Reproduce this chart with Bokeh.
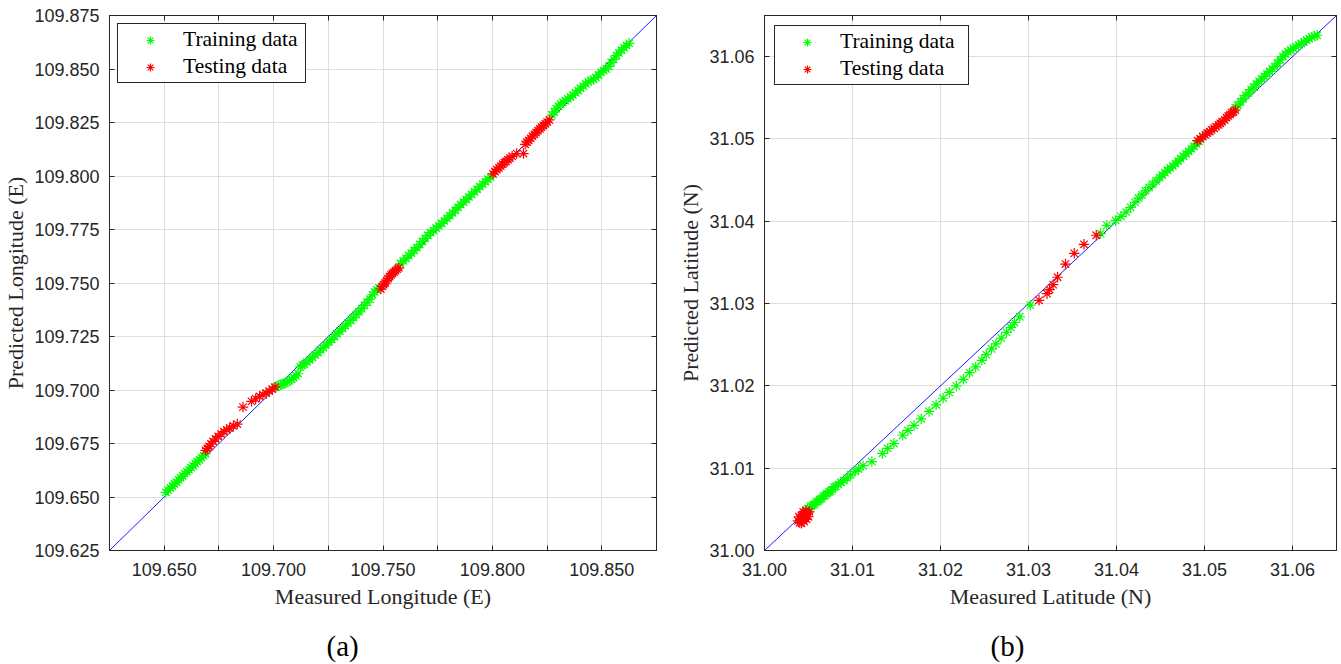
from bokeh.plotting import figure
from bokeh.layouts import row
from bokeh.models import (FixedTicker, PrintfTickFormatter, LinearAxis, Range1d,
                          CustomJSTickFormatter)
from bokeh.embed import file_html
from bokeh.resources import INLINE

# ---------------- data: (a) longitude ----------------
lon_range = [109.625, 109.875]
lon_ticks_y = [109.625, 109.65, 109.675, 109.7, 109.725, 109.75, 109.775, 109.8, 109.825, 109.85, 109.875]
lon_ticks_x = [109.65, 109.7, 109.75, 109.8, 109.85]
lon_minor_x = [109.625, 109.675, 109.725, 109.775, 109.825, 109.875]

lon_train_meas = [
    109.6507, 109.6518, 109.6528, 109.6538, 109.6547, 109.6556, 109.6566, 109.6575, 109.6585, 109.6594,
    109.6604, 109.6613, 109.6623, 109.6632, 109.6642, 109.6651, 109.6661, 109.6670, 109.6680, 109.6689,
    109.7012, 109.7022, 109.7032, 109.7042, 109.7052, 109.7062, 109.7072, 109.7082, 109.7092, 109.7102,
    109.7112, 109.7122, 109.7131,
    109.7140, 109.7152, 109.7165, 109.7178, 109.7190, 109.7203, 109.7215, 109.7228, 109.7240, 109.7253,
    109.7265, 109.7278, 109.7290, 109.7303, 109.7315, 109.7328, 109.7340, 109.7353, 109.7365, 109.7378,
    109.7390, 109.7403, 109.7415, 109.7428, 109.7440, 109.7452, 109.7462, 109.7472, 109.7482,
    109.7580, 109.7593, 109.7605, 109.7618, 109.7630, 109.7643, 109.7655, 109.7668, 109.7680, 109.7693,
    109.7705, 109.7718, 109.7730, 109.7743, 109.7755, 109.7768, 109.7780, 109.7793, 109.7805, 109.7818,
    109.7830, 109.7843, 109.7855, 109.7868, 109.7880, 109.7893, 109.7905, 109.7918, 109.7930, 109.7943,
    109.7955, 109.7968, 109.7980, 109.7992,
    109.8272, 109.8283, 109.8292, 109.8302, 109.8312, 109.8322, 109.8333, 109.8345, 109.8357, 109.8368,
    109.8380, 109.8392, 109.8403, 109.8415, 109.8427, 109.8438, 109.8450, 109.8462, 109.8473, 109.8485,
    109.8497, 109.8508, 109.8520, 109.8532, 109.8543, 109.8555, 109.8567, 109.8578, 109.8590, 109.8602,
    109.8613, 109.8625,
]
lon_train_pred = [
    109.6522, 109.6532, 109.6543, 109.6551, 109.6561, 109.6570, 109.6580, 109.6590, 109.6598, 109.6609,
    109.6618, 109.6627, 109.6637, 109.6646, 109.6656, 109.6665, 109.6674, 109.6684, 109.6693, 109.6702,
    109.7015, 109.7020, 109.7024, 109.7028, 109.7032, 109.7037, 109.7043, 109.7050, 109.7058, 109.7066,
    109.7076, 109.7108, 109.7116,
    109.7120, 109.7130, 109.7141, 109.7152, 109.7163, 109.7175, 109.7187, 109.7198, 109.7210, 109.7224,
    109.7237, 109.7250, 109.7262, 109.7275, 109.7288, 109.7300, 109.7312, 109.7325, 109.7338, 109.7352,
    109.7365, 109.7380, 109.7395, 109.7410, 109.7425, 109.7445, 109.7458, 109.7468, 109.7476,
    109.7590, 109.7603, 109.7615, 109.7628, 109.7640, 109.7652, 109.7665, 109.7680, 109.7694, 109.7708,
    109.7722, 109.7735, 109.7746, 109.7757, 109.7767, 109.7778, 109.7790, 109.7802, 109.7815, 109.7828,
    109.7840, 109.7853, 109.7866, 109.7878, 109.7890, 109.7902, 109.7914, 109.7926, 109.7938, 109.7950,
    109.7962, 109.7974, 109.7985, 109.7995,
    109.8285, 109.8300, 109.8315, 109.8327, 109.8336, 109.8344, 109.8352, 109.8360, 109.8369, 109.8378,
    109.8388, 109.8399, 109.8410, 109.8420, 109.8431, 109.8440, 109.8446, 109.8452, 109.8460, 109.8472,
    109.8485, 109.8493, 109.8500, 109.8512, 109.8530, 109.8545, 109.8563, 109.8575, 109.8588, 109.8600,
    109.8610, 109.8620,
]
lon_test_meas = [
    109.6689, 109.6697, 109.6705, 109.6714, 109.6723, 109.6735, 109.6747, 109.6760, 109.6773, 109.6786,
    109.6799, 109.6816, 109.6834,
    109.6860,
    109.6899, 109.6918, 109.6936, 109.6951, 109.6966, 109.6980, 109.6994, 109.7006,
    109.7490, 109.7497, 109.7503, 109.7510, 109.7517, 109.7523, 109.7530, 109.7537, 109.7543, 109.7550,
    109.7557, 109.7565, 109.7572,
    109.8003, 109.8012, 109.8020, 109.8030, 109.8038, 109.8047, 109.8055, 109.8063, 109.8072, 109.8080,
    109.8090, 109.8111, 109.8142, 109.8150, 109.8158, 109.8166, 109.8175, 109.8183, 109.8192, 109.8200,
    109.8208, 109.8217, 109.8225, 109.8233, 109.8242, 109.8250, 109.8260,
]
lon_test_pred = [
    109.6718, 109.6727, 109.6736, 109.6748, 109.6760, 109.6771, 109.6783, 109.6795, 109.6806, 109.6814,
    109.6822, 109.6832, 109.6841,
    109.6920,
    109.6947, 109.6959, 109.6970, 109.6978, 109.6985, 109.6995, 109.7004, 109.7013,
    109.7472, 109.7484, 109.7492, 109.7500, 109.7511, 109.7520, 109.7530, 109.7538, 109.7545, 109.7551,
    109.7558, 109.7565, 109.7571,
    109.8010, 109.8020, 109.8030, 109.8038, 109.8046, 109.8055, 109.8062, 109.8068, 109.8076, 109.8084,
    109.8092, 109.8105, 109.8105, 109.8148, 109.8158, 109.8166, 109.8176, 109.8186, 109.8195, 109.8203,
    109.8212, 109.8220, 109.8228, 109.8236, 109.8244, 109.8252, 109.8262,
]

# ---------------- data: (b) latitude ----------------
lat_range = [31.00, 31.065]
lat_ticks = [31.00, 31.01, 31.02, 31.03, 31.04, 31.05, 31.06]

lat_train_meas = [
    31.0047, 31.0049, 31.0051, 31.0053, 31.0055, 31.0057, 31.0059, 31.0061, 31.0063, 31.0065,
    31.0067, 31.0069, 31.0071, 31.0073, 31.0075, 31.0077, 31.0079, 31.0081, 31.0084, 31.0087,
    31.0090, 31.0094, 31.0098, 31.0103, 31.0107, 31.0112,
    31.0122, 31.0134, 31.0140, 31.0147, 31.0157, 31.0163, 31.0170, 31.0178, 31.0187, 31.0195,
    31.0203, 31.0210, 31.0218, 31.0226, 31.0233, 31.0240, 31.0247, 31.0252, 31.0258, 31.0263,
    31.0269, 31.0275, 31.0280, 31.0284, 31.0290, 31.0302,
    31.0382, 31.0389, 31.0399, 31.0405, 31.0411, 31.0416, 31.0421, 31.0425, 31.0429, 31.0433,
    31.0437, 31.0441, 31.0445, 31.0449, 31.0452, 31.0455, 31.0458, 31.0461, 31.0464, 31.0467,
    31.0470, 31.0473, 31.0476, 31.0479, 31.0482, 31.0485, 31.0488, 31.0491, 31.0494,
    31.0535, 31.0538, 31.0541, 31.0544, 31.0547, 31.0550, 31.0553, 31.0556, 31.0559, 31.0562,
    31.0565, 31.0568, 31.0571, 31.0574, 31.0577, 31.0580, 31.0583, 31.0586, 31.0589, 31.0592,
    31.0595, 31.0598, 31.0601, 31.0604, 31.0607, 31.0610, 31.0613, 31.0616, 31.0619, 31.0622,
    31.0625, 31.0628,
]
lat_train_pred = [
    31.0049, 31.0051, 31.0051, 31.0054, 31.0055, 31.0056, 31.0059, 31.0060, 31.0062, 31.0063,
    31.0066, 31.0067, 31.0069, 31.0071, 31.0072, 31.0074, 31.0077, 31.0078, 31.0080, 31.0083,
    31.0085, 31.0088, 31.0092, 31.0096, 31.0099, 31.0103,
    31.0108, 31.0118, 31.0124, 31.0130, 31.0140, 31.0146, 31.0152, 31.0160, 31.0169, 31.0177,
    31.0185, 31.0192, 31.0200, 31.0208, 31.0216, 31.0223, 31.0231, 31.0238, 31.0245, 31.0251,
    31.0258, 31.0265, 31.0271, 31.0277, 31.0284, 31.0298,
    31.0385, 31.0395, 31.0401, 31.0406, 31.0411, 31.0417, 31.0423, 31.0428, 31.0432, 31.0437,
    31.0441, 31.0445, 31.0449, 31.0453, 31.0456, 31.0459, 31.0462, 31.0465, 31.0467, 31.0470,
    31.0473, 31.0476, 31.0479, 31.0482, 31.0485, 31.0488, 31.0491, 31.0494, 31.0497,
    31.0538, 31.0541, 31.0545, 31.0549, 31.0553, 31.0556, 31.0560, 31.0563, 31.0567, 31.0570,
    31.0573, 31.0576, 31.0579, 31.0582, 31.0585, 31.0588, 31.0592, 31.0596, 31.0600, 31.0603,
    31.0606, 31.0608, 31.0610, 31.0612, 31.0614, 31.0616, 31.0618, 31.0620, 31.0622, 31.0624,
    31.0625, 31.0626,
]
lat_test_meas = [
    31.0038, 31.0040, 31.0041, 31.0042, 31.0043, 31.0044, 31.0045, 31.0045, 31.0046, 31.0047,
    31.0048, 31.0049, 31.0050, 31.0039, 31.0042, 31.0047, 31.0051, 31.0044,
    31.0312, 31.0321, 31.0324, 31.0328, 31.0333, 31.0342, 31.0352, 31.0363, 31.0377,
    31.0492, 31.0495, 31.0498, 31.0501, 31.0503, 31.0506, 31.0508, 31.0511, 31.0513, 31.0516,
    31.0518, 31.0520, 31.0523, 31.0525, 31.0527, 31.0529, 31.0531, 31.0533, 31.0535,
]
lat_test_pred = [
    31.0036, 31.0034, 31.0039, 31.0042, 31.0037, 31.0044, 31.0040, 31.0035, 31.0046, 31.0042,
    31.0038, 31.0045, 31.0041, 31.0041, 31.0033, 31.0048, 31.0047, 31.0047,
    31.0304, 31.0312, 31.0317, 31.0323, 31.0332, 31.0348, 31.0361, 31.0372, 31.0383,
    31.0498, 31.0500, 31.0503, 31.0505, 31.0507, 31.0509, 31.0511, 31.0513, 31.0515, 31.0517,
    31.0519, 31.0521, 31.0523, 31.0526, 31.0528, 31.0530, 31.0532, 31.0533, 31.0535,
]

TRAIN_C = "#00ff00"
TEST_C = "#ff0000"
AX_C = "#262626"
GRID_C = "#dedede"


def style_axis(ax, fmt, standoff):
    ax.formatter = PrintfTickFormatter(format=fmt)
    ax.major_tick_in = 5
    ax.major_tick_out = 0
    ax.minor_tick_in = 5
    ax.minor_tick_out = 0
    ax.major_tick_line_color = AX_C
    ax.minor_tick_line_color = AX_C
    ax.axis_line_color = AX_C
    ax.major_label_text_font = "Liberation Sans"
    ax.major_label_text_font_size = "18px"
    ax.major_label_text_color = AX_C
    ax.major_label_standoff = standoff
    ax.axis_label_text_font = "Liberation Serif"
    ax.axis_label_text_font_size = "22px"
    ax.axis_label_text_font_style = "normal"
    ax.axis_label_text_color = AX_C


def tick_only_axis(ticks):
    # mirrored box ticks (MATLAB style) without labels: drawn as minor ticks
    ax = LinearAxis(ticker=FixedTicker(ticks=[], minor_ticks=ticks))
    ax.minor_tick_in = 5
    ax.minor_tick_out = 0
    ax.minor_tick_line_color = AX_C
    ax.major_tick_in = 0
    ax.major_tick_out = 0
    ax.axis_line_color = AX_C
    ax.major_label_standoff = 0
    return ax


def caption_axis(pos, caption):
    # sub-figure caption "(a)"/"(b)" rendered as a single tick label under the x axis
    ax = LinearAxis(ticker=FixedTicker(ticks=[pos]),
                    formatter=CustomJSTickFormatter(args=dict(t=caption), code="return t"))
    ax.axis_line_color = None
    ax.major_tick_line_color = None
    ax.major_tick_in = 0
    ax.major_tick_out = 0
    ax.minor_tick_line_color = None
    ax.major_label_standoff = 18
    ax.major_label_text_font = "Liberation Serif"
    ax.major_label_text_font_size = "29px"
    ax.major_label_text_color = "black"
    return ax


def make_plot(rng, xt, xminor, yt, yminor, fmt, xlab, ylab,
              trx, tr_y, tex, tey, caption, cap_frac, width, bl, br, leg_w, leg_margin):
    p = figure(width=width, height=664, output_backend="svg", toolbar_location=None,
               x_range=Range1d(rng[0], rng[1]), y_range=Range1d(rng[0], rng[1]),
               min_border_left=bl, min_border_right=br, min_border_top=15, min_border_bottom=113,
               background_fill_color="white", border_fill_color="white")
    p.outline_line_color = AX_C
    p.outline_line_alpha = 1
    p.outline_line_width = 1

    p.xaxis.ticker = FixedTicker(ticks=xt, minor_ticks=xminor)
    p.yaxis.ticker = FixedTicker(ticks=yt, minor_ticks=yminor)
    style_axis(p.xaxis[0], fmt, 12)
    style_axis(p.yaxis[0], fmt, 10)
    p.xaxis.axis_label = xlab
    p.yaxis.axis_label = ylab
    p.xaxis.axis_label_standoff = 5
    p.yaxis.axis_label_standoff = 3

    p.add_layout(tick_only_axis(sorted(xt + xminor)), "above")
    p.add_layout(tick_only_axis(sorted(yt + yminor)), "right")
    cap_pos = round(rng[0] + cap_frac * (rng[1] - rng[0]), 5)
    p.add_layout(caption_axis(cap_pos, caption), "below")

    for g in (p.xgrid[0], p.ygrid[0]):
        g.grid_line_color = GRID_C
        g.grid_line_width = 1
        g.minor_grid_line_color = GRID_C
        g.minor_grid_line_width = 1

    p.line(rng, rng, line_color="#0000ff", line_width=0.9)
    p.scatter(trx, tr_y, marker="asterisk", size=10.5, line_color=TRAIN_C, line_width=1.2,
              legend_label="Training data")
    p.scatter(tex, tey, marker="asterisk", size=10.5, line_color=TEST_C, line_width=1.2,
              legend_label="Testing data")

    lg = p.legend[0]
    lg.location = "top_left"
    lg.margin = leg_margin
    lg.padding = 3
    lg.spacing = 2
    lg.glyph_width = 58
    lg.glyph_height = 20
    lg.label_height = 20
    lg.label_width = leg_w
    lg.label_standoff = 4
    lg.label_text_font = "Liberation Serif"
    lg.label_text_font_size = "21.5px"
    lg.label_text_color = "black"
    lg.border_line_color = AX_C
    lg.border_line_width = 1
    lg.border_line_alpha = 1
    lg.background_fill_color = "white"
    lg.background_fill_alpha = 1
    return p


p1 = make_plot(lon_range, lon_ticks_x, lon_minor_x, lon_ticks_y, [], "%.3f",
               "Measured Longitude (E)", "Predicted Longitude (E)",
               lon_train_meas, lon_train_pred, lon_test_meas, lon_test_pred,
               "(a)", 234 / 549, 672, 107, 16, 119, 8)
p2 = make_plot(lat_range, lat_ticks, [], lat_ticks, [], "%.2f",
               "Measured Latitude (N)", "Predicted Latitude (N)",
               lat_train_meas, lat_train_pred, lat_test_meas, lat_test_pred,
               "(b)", 243 / 572, 669, 92, 5, 125, 10)

layout = row(p1, p2)
open("out.html", "w").write(file_html(layout, INLINE))
